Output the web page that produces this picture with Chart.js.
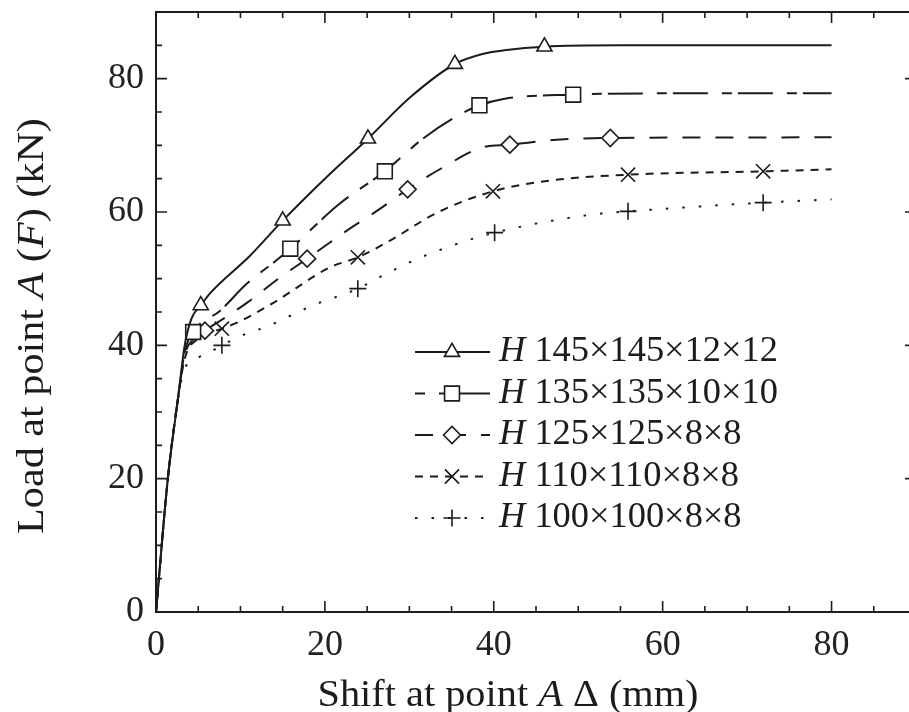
<!DOCTYPE html>
<html>
<head>
<meta charset="utf-8">
<script src="https://cdn.jsdelivr.net/npm/chart.js@4"></script>
<style>
  html, body { margin: 0; padding: 0; background: #fff; overflow: hidden; }
  #wrap { width: 920px; height: 712px; }
</style>
</head>
<body>
<div id="wrap"><canvas id="grafico"></canvas></div>
<script>
// ticks
const xTicks = [0, 20, 40, 60, 80];
const yTicks = [0, 20, 40, 60, 80];

// legend labels (H is drawn in italic before each)
const labels = ['145×145×12×12', '135×135×10×10', '125×125×8×8', '110×110×8×8', '100×100×8×8'];

// curves, [shift mm, load kN]
const h145 = [[0,0],[1.4,20],[2.6,32],[3.4,40],[4.2,44],[5.3,46],[6.4,47.8],[11.1,53.4],[15,58.7],[20,65],[25.1,71],[30.1,77.2],[35.4,82.2],[38.7,83.7],[41.5,84.3],[46,84.8],[55,85],[80,85]];
const h135 = [[0,0],[1.4,20],[2.6,32],[3.4,39],[4.4,42],[7.6,45.2],[10.8,49.3],[14.3,52.8],[15.9,54.5],[21.8,61.3],[27.1,66.1],[31.6,71],[35.4,74.2],[38.3,76],[41.3,77],[49.4,77.6],[60,77.8],[80,77.8]];
const h125 = [[0,0],[1.4,20],[2.6,32],[3.4,38.5],[4.5,41],[5.8,42.2],[8,44],[10.8,46.4],[14.5,50],[17.9,53],[22.6,57.2],[26.2,60.2],[29.8,63.4],[34,66.7],[38.7,69.7],[41.9,70.1],[47,70.8],[53.8,71.1],[80,71.2]];
const h110 = [[0,0],[1.4,20],[2.6,32],[3.4,38],[5,41],[7.8,42.5],[9.6,43.4],[13.8,46.3],[20.6,51.7],[23.9,53.2],[27.7,55.7],[33.3,59.9],[39.9,63.1],[46.6,64.7],[55.9,65.6],[71.9,66.1],[80,66.4]];
const h100 = [[0,0],[1.4,20],[2.6,32],[3.4,36.5],[4.8,38],[6.7,39.2],[7.8,40],[10.8,41.8],[12.9,42.7],[18.6,46],[23.9,48.5],[26.9,50.5],[31,53],[36.8,55.7],[40.1,56.9],[46.9,58.7],[52.9,59.8],[55.9,60.1],[71.9,61.4],[80,61.9]];

// where the symbols sit on each curve (x values)
const m145 = [5.3, 15, 25.1, 35.4, 46];
const m135 = [4.4, 15.9, 27.1, 38.3, 49.4];
const m125 = [5.8, 17.9, 29.8, 41.9, 53.8];
const m110 = [7.8, 23.9, 39.9, 55.9, 71.9];
const m100 = [7.8, 23.9, 40.1, 55.9, 71.9];

const COR = '#1c1c1c';
const FONTE = '"Liberation Serif", "DejaVu Serif", serif';

function serie(label, pts, marcas, estilo, raio, tracejado, deslocLegenda) {
    return {
        label: label,
        data: pts.map(p => ({ x: p[0], y: p[1] })),
        borderColor: COR,
        borderWidth: 2,
        borderDash: tracejado,
        backgroundColor: '#fff',
        pointStyle: estilo,
        pointRadius: ctx => marcas.includes(ctx.raw.x) ? raio : 0,
        pointBorderWidth: 1.6,
        pointBorderColor: COR,
        pointBackgroundColor: '#fff',
        pointHoverRadius: 0,
        cubicInterpolationMode: 'monotone',
        fill: false,
        marcaRaio: raio,
        deslocLegenda: deslocLegenda || 0
    };
}

// text with italic pieces: [[text, italic], ...]
function larguraMista(ctx, partes, tam) {
    let w = 0;
    partes.forEach(p => {
        ctx.font = (p[1] ? 'italic ' : '') + tam + 'px ' + FONTE;
        w += ctx.measureText(p[0]).width;
    });
    return w;
}
function textoMisto(ctx, partes, x, y, tam) {
    let cx = x;
    partes.forEach(p => {
        ctx.font = (p[1] ? 'italic ' : '') + tam + 'px ' + FONTE;
        ctx.fillText(p[0], cx, y);
        cx += ctx.measureText(p[0]).width;
    });
}

const molduraPlugin = {
    id: 'moldura',
    afterDatasetsDraw(chart) {
        const ctx = chart.ctx;
        const a = chart.chartArea;
        const xs = chart.scales.x, ys = chart.scales.y;
        ctx.save();
        ctx.strokeStyle = COR;
        ctx.lineWidth = 2;
        ctx.strokeRect(a.left, a.top, a.right - a.left, a.bottom - a.top);
        ctx.lineWidth = 1.6;
        ctx.beginPath();
        for (let v = 0; v <= xs.max; v += 5) {
            const px = xs.getPixelForValue(v);
            const len = v % 20 === 0 ? 11 : 6;
            ctx.moveTo(px, a.bottom); ctx.lineTo(px, a.bottom - len);
            ctx.moveTo(px, a.top); ctx.lineTo(px, a.top + len);
        }
        for (let v = 0; v <= ys.max; v += 5) {
            const py = ys.getPixelForValue(v);
            const len = v % 20 === 0 ? 11 : 6;
            ctx.moveTo(a.left, py); ctx.lineTo(a.left + len, py);
            ctx.moveTo(a.right, py); ctx.lineTo(a.right - len, py);
        }
        ctx.stroke();

        // axis titles (stretched a little along the text, like the original type)
        ctx.fillStyle = COR;
        ctx.textBaseline = 'alphabetic';
        const tituloX = [['Shift at point ', false], ['A', true], [' Δ (mm)', false]];
        const wx = larguraMista(ctx, tituloX, 37);
        ctx.save();
        ctx.translate(508, 706);
        ctx.scale(1.09, 1);
        textoMisto(ctx, tituloX, -wx / 2, 0, 37);
        ctx.restore();

        const tituloY = [['Load at point ', false], ['A', true], [' (', false], ['F', true], [') (kN)', false]];
        const wy = larguraMista(ctx, tituloY, 37);
        ctx.save();
        ctx.translate(43, 326);
        ctx.rotate(-Math.PI / 2);
        ctx.scale(1.14, 1);
        textoMisto(ctx, tituloY, -wy / 2, 0, 37);
        ctx.restore();

        // legend
        const x0 = a.left + 259, y0 = a.top + 340, passo = 41.5;
        chart.data.datasets.forEach((ds, i) => {
            const y = y0 + i * passo;
            ctx.save();
            ctx.strokeStyle = COR;
            ctx.lineWidth = 2;
            ctx.setLineDash(ds.borderDash || []);
            ctx.lineDashOffset = ds.deslocLegenda;
            ctx.beginPath();
            ctx.moveTo(x0, y); ctx.lineTo(x0 + 75, y);
            ctx.stroke();
            ctx.restore();
            ctx.fillStyle = '#fff';
            ctx.strokeStyle = COR;
            Chart.helpers.drawPoint(ctx, {
                pointStyle: ds.pointStyle, radius: ds.marcaRaio, rotation: 0,
                borderWidth: 1.6
            }, x0 + 37, y);
            ctx.fillStyle = COR;
            ctx.textBaseline = 'middle';
            ctx.save();
            ctx.translate(x0 + 84, y);
            ctx.scale(1.04, 1);
            textoMisto(ctx, [['H', true], [' ' + ds.label, false]], 0, 0, 35);
            ctx.restore();
        });
        ctx.restore();
    }
};

// drawPoint needs fill/stroke styles set on the context
const preparaPonto = {
    id: 'preparaPonto',
    beforeDatasetsDraw(chart) {
        chart.ctx.fillStyle = '#fff';
        chart.ctx.strokeStyle = COR;
    }
};

const semMargem = s => { s.paddingTop = 0; s.paddingBottom = 0; s.paddingLeft = 0; s.paddingRight = 0; };

const ctx = document.getElementById('grafico').getContext('2d');
const grafico = new Chart(ctx, {
    type: 'line',
    data: {
        datasets: [
            serie(labels[0], h145, m145, 'triangle', 8.7, []),
            serie(labels[1], h135, m135, 'rect', 10.5, [35, 14, 10, 6], 25),
            serie(labels[2], h125, m125, 'rectRot', 8.5, [18, 15]),
            serie(labels[3], h110, m110, 'crossRot', 10, [8, 7]),
            serie(labels[4], h100, m100, 'cross', 8.5, [2.5, 14])
        ]
    },
    options: {
        responsive: true,
        maintainAspectRatio: false,
        animation: false,
        events: [],
        layout: { padding: { left: 0, top: 12, right: 4, bottom: 0 } },
        plugins: {
            legend: { display: false },
            tooltip: { enabled: false }
        },
        scales: {
            x: {
                type: 'linear',
                min: 0, max: 90,
                afterBuildTicks: s => { s.ticks = xTicks.map(v => ({ value: v })); },
                afterFit: s => { s.height = 100; semMargem(s); },
                grid: { display: false, drawTicks: false },
                border: { display: false },
                ticks: { padding: 12, color: '#222', font: { family: FONTE, size: 36 } }
            },
            y: {
                type: 'linear',
                min: 0, max: 90,
                afterBuildTicks: s => { s.ticks = yTicks.map(v => ({ value: v })); },
                afterFit: s => { s.width = 156; semMargem(s); },
                grid: { display: false, drawTicks: false },
                border: { display: false },
                ticks: { padding: 12, color: '#222', font: { family: FONTE, size: 36 } }
            }
        }
    },
    plugins: [preparaPonto, molduraPlugin]
});
</script>
</body>
</html>
